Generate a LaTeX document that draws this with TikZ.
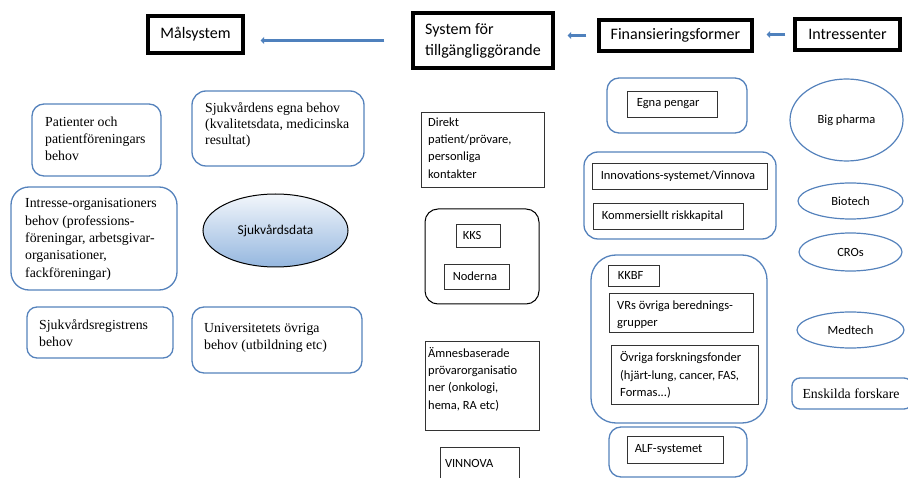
\documentclass[tikz,border=0pt]{standalone}
\usepackage{fontspec}
\newfontfamily\carl{Carlito}
\newfontfamily\tnr{Liberation Serif}
\usetikzlibrary{shapes.geometric,arrows.meta}
\definecolor{bblue}{HTML}{5582BC}
\definecolor{arblue}{HTML}{4F81BD}
\definecolor{elltop}{HTML}{F2F6FB}
\definecolor{ellbot}{HTML}{95B7DF}
\begin{document}
\begin{tikzpicture}[x=1pt,y=-1pt,
  hdr/.style={draw=black, line width=3.2pt, inner sep=0pt, align=left,
    font=\carl\fontsize{16}{21}\selectfont},
  bbox/.style={draw=bblue, line width=1.3pt, inner sep=0pt},
  kbox/.style={draw=black!80, line width=0.9pt, inner sep=0pt},
  ell/.style={ellipse, draw=bblue, line width=1.2pt, inner sep=0pt,
    font=\carl\fontsize{12.5}{15}\selectfont},
  ctxt/.style={anchor=west, inner sep=0pt, align=left,
    font=\carl\fontsize{12.5}{17.3}\selectfont},
  ttxt/.style={anchor=west, inner sep=0pt, align=left,
    font=\tnr\fontsize{13.8}{17}\selectfont},
  arr/.style={draw=arblue, line width=3pt, -{Triangle[length=3.5pt,width=7pt]}},
  sz/.style 2 args={minimum width=#1pt, minimum height=#2pt},
]
\useasboundingbox (0,0) rectangle (908,478);
\clip (0,0) rectangle (908,478);

% ---------- headers ----------
\node[hdr, sz={95}{37}] (mal) at (195.5,34.5) {Målsystem};
\node[hdr, sz={140}{55}] (sys) at (483,40.5) {System för\\tillgängliggörande};
\node[hdr, sz={153}{31}] (fin) at (675.5,35.5) {Finansieringsformer};
\node[hdr, sz={105}{31}] (int) at (847.5,34.5) {Intressenter};

\draw[arr, shorten <=27pt, shorten >=16pt] (sys.west) -- (mal.east |- sys.west);
\draw[arr, shorten <=11pt, shorten >=13pt] (fin.west) -- (sys.east |- fin.west);
\draw[arr, shorten <=8pt, shorten >=13pt] (int.west) -- (fin.east |- int.west);

% ---------- Målsystem column ----------
\node[bbox, sz={129}{72}, rounded corners=12pt] (pat) at (96.5,140) {};
\node[ttxt] (pat-t) at (45,138.5) {Patienter och\\patientföreningars\\behov};

\node[bbox, sz={172}{75}, rounded corners=14pt] (sjv) at (278,128.5) {};
\node[ttxt, font=\tnr\fontsize{13.8}{16.3}\selectfont] (sjv-t) at (205,125) {Sjukvårdens egna behov\\(kvalitetsdata, medicinska\\resultat)};

\node[bbox, sz={166}{103}, rounded corners=18pt] (intr) at (94,238.5) {};
\node[ttxt, font=\tnr\fontsize{13.8}{17.4}\selectfont] (intr-t) at (25,239.5) {Intresse-organisationers\\behov (professions-\\föreningar, arbetsgivar-\\organisationer,\\fackföreningar)};

\node[ellipse, draw=black, line width=1pt, top color=elltop, bottom color=ellbot,
  sz={145}{73}, inner sep=0pt, font=\carl\fontsize{13.4}{16}\selectfont] (data) at (275.5,230.5) {Sjukvårdsdata};

\node[bbox, sz={146}{51}, rounded corners=10pt] (reg) at (100,332.5) {};
\node[ttxt] (reg-t) at (39,333) {Sjukvårdsregistrens\\behov};

\node[bbox, sz={170}{66}, rounded corners=12pt] (uni) at (277,340) {};
\node[ttxt] (uni-t) at (204,338) {Universitetets övriga\\behov (utbildning etc)};

% ---------- System för tillgängliggörande column ----------
\node[kbox, sz={123}{75}] (dir) at (482.5,149.5) {};
\node[ctxt] (dir-t) at (428,148) {Direkt\\patient/prövare,\\personliga\\kontakter};

\node[draw=black, line width=1pt, sz={114}{95}, rounded corners=13pt] (kksg) at (482,256.5) {};
\node[kbox, sz={44}{23}] (kks) at (478,235.5) {};
\node[ctxt] (kks-t) at ([xshift=7pt]kks.west) {KKS};
\node[kbox, sz={65}{25}] (nod) at (476.5,276.5) {};
\node[ctxt] (nod-t) at ([xshift=9pt]nod.west) {Noderna};

\node[kbox, sz={114}{89}] (amn) at (482,385.5) {};
\node[ctxt] (amn-t) at (428,379) {Ämnesbaserade\\prövarorganisatio\\ner (onkologi,\\hema, RA etc)};

\node[sz={78}{30}, inner sep=0pt] (vin) at (480,463) {};
\draw[draw=black!80, line width=0.9pt] (vin.south west) -- (vin.north west) -- (vin.north east) -- (vin.south east);
\node[ctxt] (vin-t) at ([xshift=4pt]vin.west) {VINNOVA};

% ---------- Finansieringsformer column ----------
\node[bbox, sz={140}{55}, rounded corners=12pt] (egg) at (677,105.5) {};
\node[kbox, sz={90}{26}] (egn) at (672,104) {};
\node[ctxt] (egn-t) at ([xshift=10pt]egn.west) {Egna pengar};

\node[bbox, sz={192}{87}, rounded corners=14pt] (invg) at (680,195.5) {};
\node[kbox, sz={175}{26}] (inv) at (679.5,176) {};
\node[ctxt] (inv-t) at ([xshift=9pt]inv.west) {Innovations-systemet/Vinnova};
\node[kbox, sz={150}{26}] (kom) at (668,216) {};
\node[ctxt] (kom-t) at ([xshift=9pt]kom.west) {Kommersiellt riskkapital};

\node[bbox, sz={176}{168}, rounded corners=25pt] (kkg) at (679,339) {};
\node[kbox, sz={51}{21}] (kkbf) at (633.5,275.5) {};
\node[ctxt] (kkbf-t) at ([xshift=10pt]kkbf.west) {KKBF};
\node[kbox, sz={144}{39}] (vrs) at (681,312.5) {};
\node[ctxt] (vrs-t) at (617,314.5) {VRs övriga berednings-\\grupper};
\node[kbox, sz={147}{59}] (ovr) at (684.5,374.5) {};
\node[ctxt] (ovr-t) at (620,375) {Övriga forskningsfonder\\(hjärt-lung, cancer, FAS,\\Formas...)};

\node[bbox, sz={138}{50}, rounded corners=12pt] (alfg) at (678,452) {};
\node[kbox, sz={96}{27}] (alf) at (675,449.5) {};
\node[ctxt] (alf-t) at ([xshift=8pt]alf.west) {ALF-systemet};

% ---------- Intressenter column ----------
\node[ell, sz={113}{82}] (bp) at (846.5,120) {Big pharma};
\node[ell, sz={105}{36}] (bio) at (850.5,201) {Biotech};
\node[ell, sz={103}{38}] (cro) at (850.5,252) {CROs};
\node[ell, sz={107}{36}] (med) at (850.5,330) {Medtech};
\node[bbox, sz={120}{31}, rounded corners=8pt] (ens) at (852,393.5) {};
\node[ttxt] (ens-t) at ([xshift=11pt]ens.west) {Enskilda forskare};
\end{tikzpicture}
\end{document}
